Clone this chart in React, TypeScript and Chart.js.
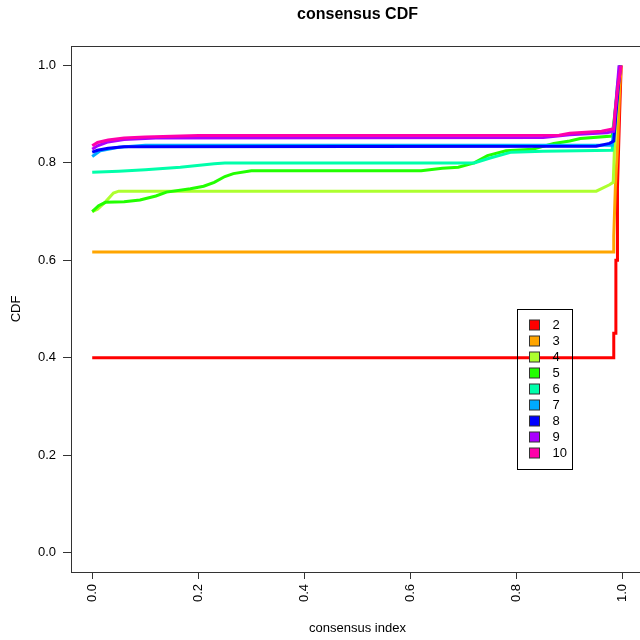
import React, { useEffect, useRef } from "react";
import { Chart, registerables } from "chart.js";

Chart.register(...registerables);

const seriesLabels = ["2", "3", "4", "5", "6", "7", "8", "9", "10"];
const seriesColors = [
  "#FF0000",
  "#FFA500",
  "#ADFF2F",
  "#22FF00",
  "#00FFAA",
  "#00AAFF",
  "#0000FF",
  "#AA00FF",
  "#FF00AA",
];

const k2X = [0, 0.983, 0.983, 0.987, 0.987, 0.99, 0.99, 0.994, 0.997];
const k2Y = [0.4, 0.4, 0.45, 0.45, 0.6, 0.6, 0.75, 0.9, 1.0];

const k3X = [0, 0.982, 0.983, 0.986, 0.99, 0.994, 0.997];
const k3Y = [0.617, 0.617, 0.65, 0.75, 0.83, 0.95, 1.0];

const k4X = [0, 0.01, 0.025, 0.04, 0.05, 0.95, 0.975, 0.982, 0.985, 0.99, 0.994];
const k4Y = [0.7, 0.705, 0.72, 0.738, 0.742, 0.742, 0.755, 0.76, 0.85, 0.93, 1.0];

const k5X = [0, 0.012, 0.025, 0.06, 0.09, 0.12, 0.14, 0.185, 0.21, 0.23, 0.25, 0.266, 0.3, 0.62, 0.66, 0.69, 0.72, 0.745, 0.78, 0.83, 0.87, 0.9, 0.92, 0.98, 0.985, 0.99, 0.995];
const k5Y = [0.7, 0.712, 0.719, 0.72, 0.724, 0.732, 0.74, 0.747, 0.752, 0.76, 0.772, 0.778, 0.784, 0.784, 0.789, 0.791, 0.8, 0.815, 0.825, 0.828, 0.84, 0.845, 0.85, 0.855, 0.9, 0.95, 1.0];

const k6X = [0, 0.05, 0.1, 0.166, 0.23, 0.25, 0.72, 0.75, 0.79, 0.85, 0.98, 0.985, 0.99, 0.995];
const k6Y = [0.781, 0.783, 0.786, 0.791, 0.798, 0.8, 0.8, 0.81, 0.822, 0.824, 0.826, 0.9, 0.96, 1.0];

const k7X = [0, 0.015, 0.05, 0.1, 0.98, 0.985, 0.99, 0.995];
const k7Y = [0.813, 0.825, 0.832, 0.836, 0.836, 0.88, 0.95, 1.0];

const k8X = [0, 0.01, 0.03, 0.06, 0.95, 0.975, 0.983, 0.987, 0.992, 0.996];
const k8Y = [0.822, 0.826, 0.83, 0.833, 0.834, 0.84, 0.845, 0.9, 0.96, 1.0];

const k9X = [0, 0.01, 0.03, 0.06, 0.12, 0.85, 0.9, 0.97, 0.983, 0.987, 0.993];
const k9Y = [0.828, 0.835, 0.843, 0.848, 0.851, 0.852, 0.858, 0.862, 0.865, 0.92, 1.0];

const k10X = [0, 0.01, 0.03, 0.06, 0.1, 0.2, 0.88, 0.9, 0.96, 0.983, 0.985, 0.99, 0.997];
const k10Y = [0.835, 0.842, 0.847, 0.851, 0.853, 0.856, 0.857, 0.861, 0.865, 0.87, 0.9, 0.95, 1.0];

const seriesX = [k2X, k3X, k4X, k5X, k6X, k7X, k8X, k9X, k10X];
const seriesY = [k2Y, k3Y, k4Y, k5Y, k6Y, k7Y, k8Y, k9Y, k10Y];

const tickValues = [0, 0.2, 0.4, 0.6, 0.8, 1.0];

const titleText = "consensus CDF";
const xTitle = "consensus index";
const yTitle = "CDF";

const FONT = "'Liberation Sans', Arial, Helvetica, sans-serif";

const decorPlugin = {
  id: "decor",
  afterDraw(chart: any) {
    const ctx = chart.ctx;
    const area = chart.chartArea;
    const xs = chart.scales.x;
    const ys = chart.scales.y;
    ctx.save();
    // plot box
    ctx.strokeStyle = "#333333";
    ctx.lineWidth = 1;
    ctx.strokeRect(Math.round(area.left) + 0.5, Math.round(area.top) + 0.5, area.right - area.left, area.bottom - area.top);

    const cx = xs.getPixelForValue(0.5);
    ctx.fillStyle = "#000000";
    // title
    ctx.font = `bold 16px ${FONT}`;
    ctx.textAlign = "center";
    ctx.textBaseline = "middle";
    ctx.fillText(titleText, cx, 15);
    // x title
    ctx.font = `13px ${FONT}`;
    ctx.fillText(xTitle, cx, 628);
    // y title
    ctx.save();
    ctx.translate(16, (area.top + area.bottom) / 2);
    ctx.rotate(-Math.PI / 2);
    ctx.fillText(yTitle, 0, 0);
    ctx.restore();

    // legend (transparent background)
    const lx = Math.round(xs.getPixelForValue(0.8)) + 0.5;
    const ly = Math.round(ys.getPixelForValue(0.5)) + 0.5;
    const lw = 55;
    const lh = 160;
    ctx.strokeStyle = "#000000";
    ctx.strokeRect(lx, ly, lw, lh);
    ctx.font = `13px ${FONT}`;
    ctx.textAlign = "left";
    ctx.textBaseline = "middle";
    chart.data.datasets.forEach((ds: any, i: number) => {
      const cy = Math.round(ly + 15 + i * 16.1);
      ctx.fillStyle = ds.borderColor;
      ctx.fillRect(lx + 12, cy - 5, 10, 10);
      ctx.strokeStyle = "#333333";
      ctx.strokeRect(lx + 12, cy - 5, 10, 10);
      ctx.fillStyle = "#000000";
      ctx.fillText(ds.label, lx + 35, cy + 0.5);
    });
    ctx.restore();
  },
};

export default function App() {
  const canvasRef = useRef<HTMLCanvasElement | null>(null);

  useEffect(() => {
    if (!canvasRef.current) return;
    const datasets = seriesLabels.map((label, i) => ({
      label,
      data: seriesX[i].map((x, j) => ({ x, y: seriesY[i][j] })),
      borderColor: seriesColors[i],
      backgroundColor: seriesColors[i],
      borderWidth: 3,
      pointRadius: 0,
      tension: 0,
      fill: false,
      order: seriesLabels.length - i,
    }));

    const tickFont = { family: FONT, size: 13 };

    const chart = new Chart(canvasRef.current, {
      type: "line",
      data: { datasets },
      plugins: [decorPlugin],
      options: {
        animation: false,
        responsive: false,
        maintainAspectRatio: false,
        layout: { padding: { left: 0, right: 16, top: 46, bottom: 0 } },
        plugins: {
          legend: { display: false },
          title: { display: false },
          tooltip: { enabled: false },
        },
        scales: {
          x: {
            type: "linear",
            min: -0.04,
            max: 1.04,
            afterBuildTicks: (scale: any) => {
              scale.ticks = tickValues.map((v) => ({ value: v }));
            },
            afterFit: (scale: any) => {
              scale.height = 68;
            },
            ticks: {
              color: "#000000",
              font: tickFont,
              minRotation: 90,
              maxRotation: 90,
              padding: 5,
              autoSkip: false,
              callback: (v: any) => Number(v).toFixed(1),
            },
            grid: {
              display: true,
              drawOnChartArea: false,
              drawTicks: true,
              tickLength: 7,
              tickColor: "#333333",
            },
            border: { display: true, color: "#333333" },
          },
          y: {
            type: "linear",
            min: -0.04,
            max: 1.04,
            afterBuildTicks: (scale: any) => {
              scale.ticks = tickValues.map((v) => ({ value: v }));
            },
            afterFit: (scale: any) => {
              scale.width = 71;
            },
            ticks: {
              color: "#000000",
              font: tickFont,
              padding: 7,
              autoSkip: false,
              callback: (v: any) => Number(v).toFixed(1),
            },
            grid: {
              display: true,
              drawOnChartArea: false,
              drawTicks: true,
              tickLength: 8,
              tickColor: "#333333",
            },
            border: { display: true, color: "#333333" },
          },
        },
      },
    });
    return () => chart.destroy();
  }, []);

  return (
    <div style={{ position: "fixed", left: 0, top: 0, width: 640, height: 640, overflow: "hidden", background: "#ffffff" }}>
      <canvas ref={canvasRef} width={660} height={640} style={{ width: 660, height: 640, display: "block" }} />
    </div>
  );
}
